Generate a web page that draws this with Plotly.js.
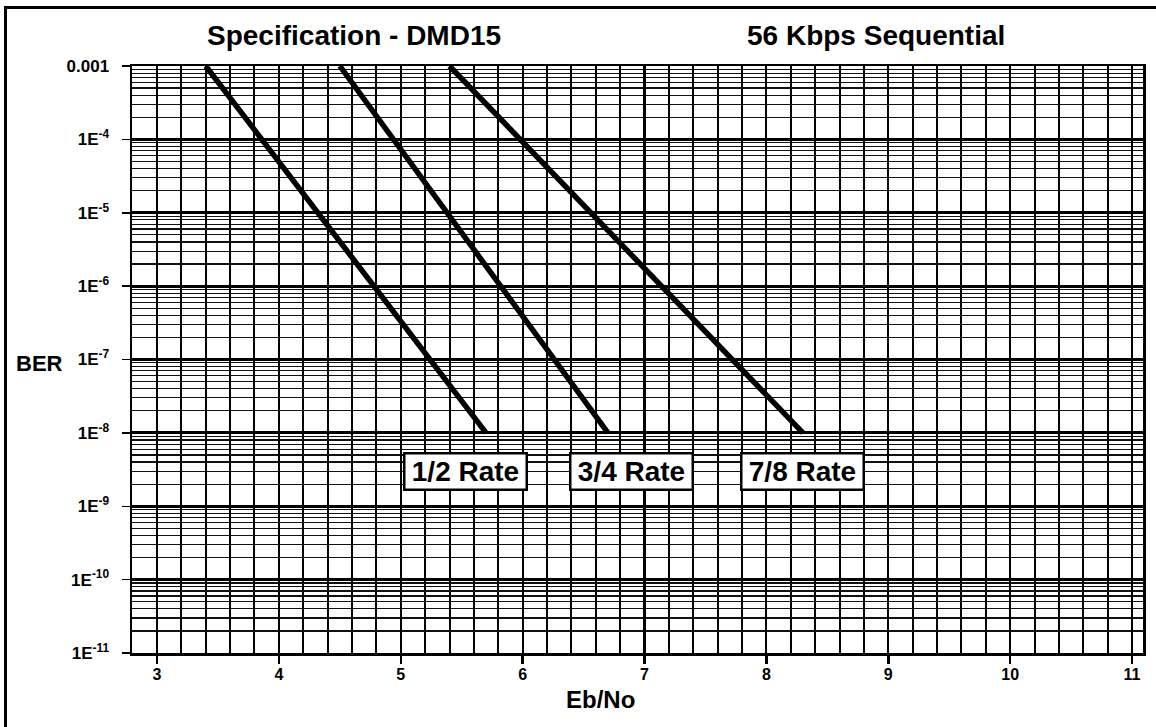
<!DOCTYPE html>
<html>
<head>
<meta charset="utf-8">
<script src="https://cdn.plot.ly/plotly-3.0.1.min.js"></script>
<style>
  html, body { margin: 0; padding: 0; background: #fff; }
  #wrap { position: relative; width: 1156px; height: 727px; overflow: hidden; }
  #frame { position: absolute; left: 4px; top: 6px; width: 1180px; height: 760px;
           border-left: 3px solid #000; border-top: 3px solid #000; pointer-events: none; z-index: 5; }
  #chart { position: absolute; left: 0; top: 0; width: 1156px; height: 727px; }
</style>
</head>
<body>
<div id="wrap">
  <div id="chart"></div>
  <div id="frame"></div>
</div>
<script>
// ---- data ----
const seriesNames = ["1/2 Rate", "3/4 Rate", "7/8 Rate"];
const halfRateEbNo = [3.4, 5.7];
const halfRateBER = [1e-3, 1e-8];
const threeQuarterEbNo = [4.5, 6.7];
const threeQuarterBER = [1e-3, 1e-8];
const sevenEighthEbNo = [5.4, 8.3];
const sevenEighthBER = [1e-3, 1e-8];

const xTickVals = [3, 4, 5, 6, 7, 8, 9, 10, 11];
const xTickText = ["3", "4", "5", "6", "7", "8", "9", "10", "11"];
const yTickVals = [1e-3, 1e-4, 1e-5, 1e-6, 1e-7, 1e-8, 1e-9, 1e-10, 1e-11];
const yTickText = ["0.001", "1E<sup>-4</sup>", "1E<sup>-5</sup>", "1E<sup>-6</sup>", "1E<sup>-7</sup>",
                   "1E<sup>-8</sup>", "1E<sup>-9</sup>", "1E<sup>-10</sup>", "1E<sup>-11</sup>"];

const titleLeft = "Specification - DMD15";
const titleRight = "56 Kbps Sequential";
const xTitle = "Eb/No";
const yTitle = "BER";

// ---- chart ----
const FONT = "Liberation Sans, Arial, Helvetica, sans-serif";
const lineStyle = { color: "#000", width: 5.5 };

const traces = [
  { x: halfRateEbNo, y: halfRateBER, name: seriesNames[0] },
  { x: threeQuarterEbNo, y: threeQuarterBER, name: seriesNames[1] },
  { x: sevenEighthEbNo, y: sevenEighthBER, name: seriesNames[2] }
].map(t => Object.assign(t, { type: "scatter", mode: "lines", line: lineStyle, hoverinfo: "skip" }));

// label boxes sit just below the 1E-8 end of each curve
const labelY = -8.52;
const labelBoxes = [
  { text: seriesNames[0], x: 5.53 },
  { text: seriesNames[1], x: 6.89 },
  { text: seriesNames[2], x: 8.30 }
].map(a => ({
  text: "<b>" + a.text + "</b>", x: a.x, y: labelY, xref: "x", yref: "y",
  xanchor: "center", yanchor: "middle",
  showarrow: false, bgcolor: "#fff", bordercolor: "#000", borderwidth: 2.5,
  borderpad: 1, width: 118, height: 32,
  font: { family: FONT, size: 28, color: "#000" }
}));

const layout = {
  width: 1156, height: 727,
  paper_bgcolor: "#fff", plot_bgcolor: "#fff",
  showlegend: false,
  margin: { l: 132, r: 13, t: 66, b: 74 },
  xaxis: {
    type: "linear", range: [2.795, 11.09],
    tickmode: "array", tickvals: xTickVals, ticktext: xTickText,
    ticks: "outside", ticklen: 8, tickwidth: 2.5, tickcolor: "#000",
    tickfont: { family: FONT, size: 16, color: "#000", weight: "bold" },
    ticklabelstandoff: -3,
    showgrid: true, gridcolor: "#000", gridwidth: 2.2,
    minor: { dtick: 0.2, tick0: 3, showgrid: true, gridcolor: "#000", gridwidth: 2, ticks: "" },
    showline: true, linecolor: "#000", linewidth: 2.5, mirror: true,
    zeroline: false
  },
  yaxis: {
    type: "log", range: [-11, -3],
    tickmode: "array", tickvals: yTickVals, ticktext: yTickText,
    ticks: "outside", ticklen: 8, tickwidth: 1.5, tickcolor: "#000",
    tickfont: { family: FONT, size: 17, color: "#000", weight: "bold" },
    ticklabelstandoff: 9,
    showgrid: true, gridcolor: "#000", gridwidth: 3,
    minor: { dtick: "D1", showgrid: true, gridcolor: "#111", gridwidth: 1.2, ticks: "" },
    showline: true, linecolor: "#000", linewidth: 2.5, mirror: true,
    zeroline: false
  },
  annotations: [
    { text: "<b>" + titleLeft + "</b>", xref: "paper", yref: "paper", x: 0.2196, y: 1.0, yshift: 31,
      xanchor: "center", yanchor: "middle",
      showarrow: false, font: { family: FONT, size: 28, color: "#000" } },
    { text: "<b>" + titleRight + "</b>", xref: "paper", yref: "paper", x: 0.736, y: 1.0, yshift: 31,
      xanchor: "center", yanchor: "middle",
      showarrow: false, font: { family: FONT, size: 28, color: "#000" } },
    { text: "<b>" + yTitle + "</b>", xref: "paper", yref: "paper", x: -0.091, y: 0.5, yshift: -4,
      xanchor: "center", yanchor: "middle",
      showarrow: false, font: { family: FONT, size: 22, color: "#000" } },
    { text: "<b>" + xTitle + "</b>", xref: "paper", yref: "paper", x: 0.463, y: 0, yshift: -46,
      xanchor: "center", yanchor: "middle",
      showarrow: false, font: { family: FONT, size: 24, color: "#000" } }
  ].concat(labelBoxes)
};

Plotly.newPlot("chart", traces, layout, { displayModeBar: false, staticPlot: true });
</script>
</body>
</html>
